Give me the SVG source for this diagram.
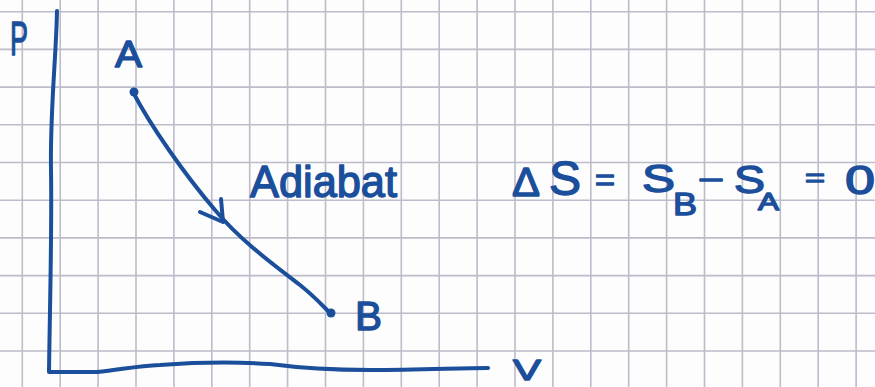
<svg xmlns="http://www.w3.org/2000/svg" width="875" height="387" viewBox="0 0 875 387">
  <style>
    .grid { stroke: #bcbcca; stroke-width: 1.6; fill: none; }
    .ink { stroke: #1b4e9b; stroke-width: 4; fill: none; stroke-linecap: round; stroke-linejoin: round; }
    .dot { fill: #1b4e9b; }
    .t { font-family: "Liberation Sans", Arial, sans-serif; fill: #1b4e9b; stroke: #1b4e9b; stroke-width: 1.4; stroke-linejoin: round; }
  </style>
  <rect x="0" y="0" width="875" height="387" fill="#fdfdfd"/>
  <g id="grid">
    <path class="grid" d="M22.3,0V387 M60.2,0V387 M98.1,0V387 M136,0V387 M173.9,0V387 M211.8,0V387 M249.7,0V387 M287.6,0V387 M325.5,0V387 M363.4,0V387 M401.3,0V387 M439.2,0V387 M477.1,0V387 M515,0V387 M552.9,0V387 M590.8,0V387 M628.7,0V387 M666.6,0V387 M704.5,0V387 M742.4,0V387 M780.3,0V387 M818.2,0V387 M856.1,0V387"/>
    <path class="grid" d="M0,11.7H875 M0,49.4H875 M0,87.1H875 M0,124.8H875 M0,162.5H875 M0,200.2H875 M0,237.9H875 M0,275.6H875 M0,313.3H875 M0,351H875"/>
  </g>
  <g id="axes">
    <path class="ink" d="M57,11 C56,60 50,110 51,170 C52,230 50,300 49,372 L97,372 C120,370 135,366 160,365 C200,362 240,362 270,364 C300,368 330,370 370,370 C420,370 460,368 488,368"/>
    <text class="t" x="10" y="55" font-size="48" textLength="18" lengthAdjust="spacingAndGlyphs">P</text>
    <text class="t" x="513" y="380" font-size="30" textLength="28" lengthAdjust="spacingAndGlyphs">V</text>
  </g>
  <g id="node-A">
    <circle class="dot" cx="134" cy="92" r="4.5"/>
    <text class="t" x="115" y="67" font-size="37" textLength="27" lengthAdjust="spacingAndGlyphs">A</text>
  </g>
  <g id="node-B">
    <circle class="dot" cx="331" cy="313" r="4.5"/>
    <text class="t" x="355" y="330" font-size="41" textLength="27" lengthAdjust="spacingAndGlyphs">B</text>
  </g>
  <g id="connectors">
    <path class="ink" d="M133,92 C150,125 185,175 215,210 C240,240 270,262 300,285 C315,297 322,305 330,313"/>
    <path class="ink" d="M200,212 L223,222 L221,199"/>
  </g>
  <g id="label-adiabat">
    <text class="t" x="250" y="197" font-size="44" textLength="147" lengthAdjust="spacingAndGlyphs">Adiabat</text>
  </g>
  <g id="equation">
    <text class="t" x="512" y="196" font-size="40" textLength="28" lengthAdjust="spacingAndGlyphs">Δ</text>
    <text class="t" x="549" y="195" font-size="48" textLength="32" lengthAdjust="spacingAndGlyphs">S</text>
    <text class="t" x="595" y="190" font-size="30" textLength="20" lengthAdjust="spacingAndGlyphs">=</text>
    <text class="t" x="642" y="192" font-size="38" textLength="33" lengthAdjust="spacingAndGlyphs">S</text>
    <text class="t" x="673" y="215" font-size="32" textLength="24" lengthAdjust="spacingAndGlyphs">B</text>
    <text class="t" x="698" y="190" font-size="30" textLength="26" lengthAdjust="spacingAndGlyphs">−</text>
    <text class="t" x="734" y="193" font-size="39" textLength="31" lengthAdjust="spacingAndGlyphs">S</text>
    <text class="t" x="758" y="210" font-size="24" textLength="21" lengthAdjust="spacingAndGlyphs">A</text>
    <text class="t" x="805" y="186" font-size="26" textLength="20" lengthAdjust="spacingAndGlyphs">=</text>
    <text class="t" x="845" y="194" font-size="40" textLength="30" lengthAdjust="spacingAndGlyphs">0</text>
  </g>
</svg>
